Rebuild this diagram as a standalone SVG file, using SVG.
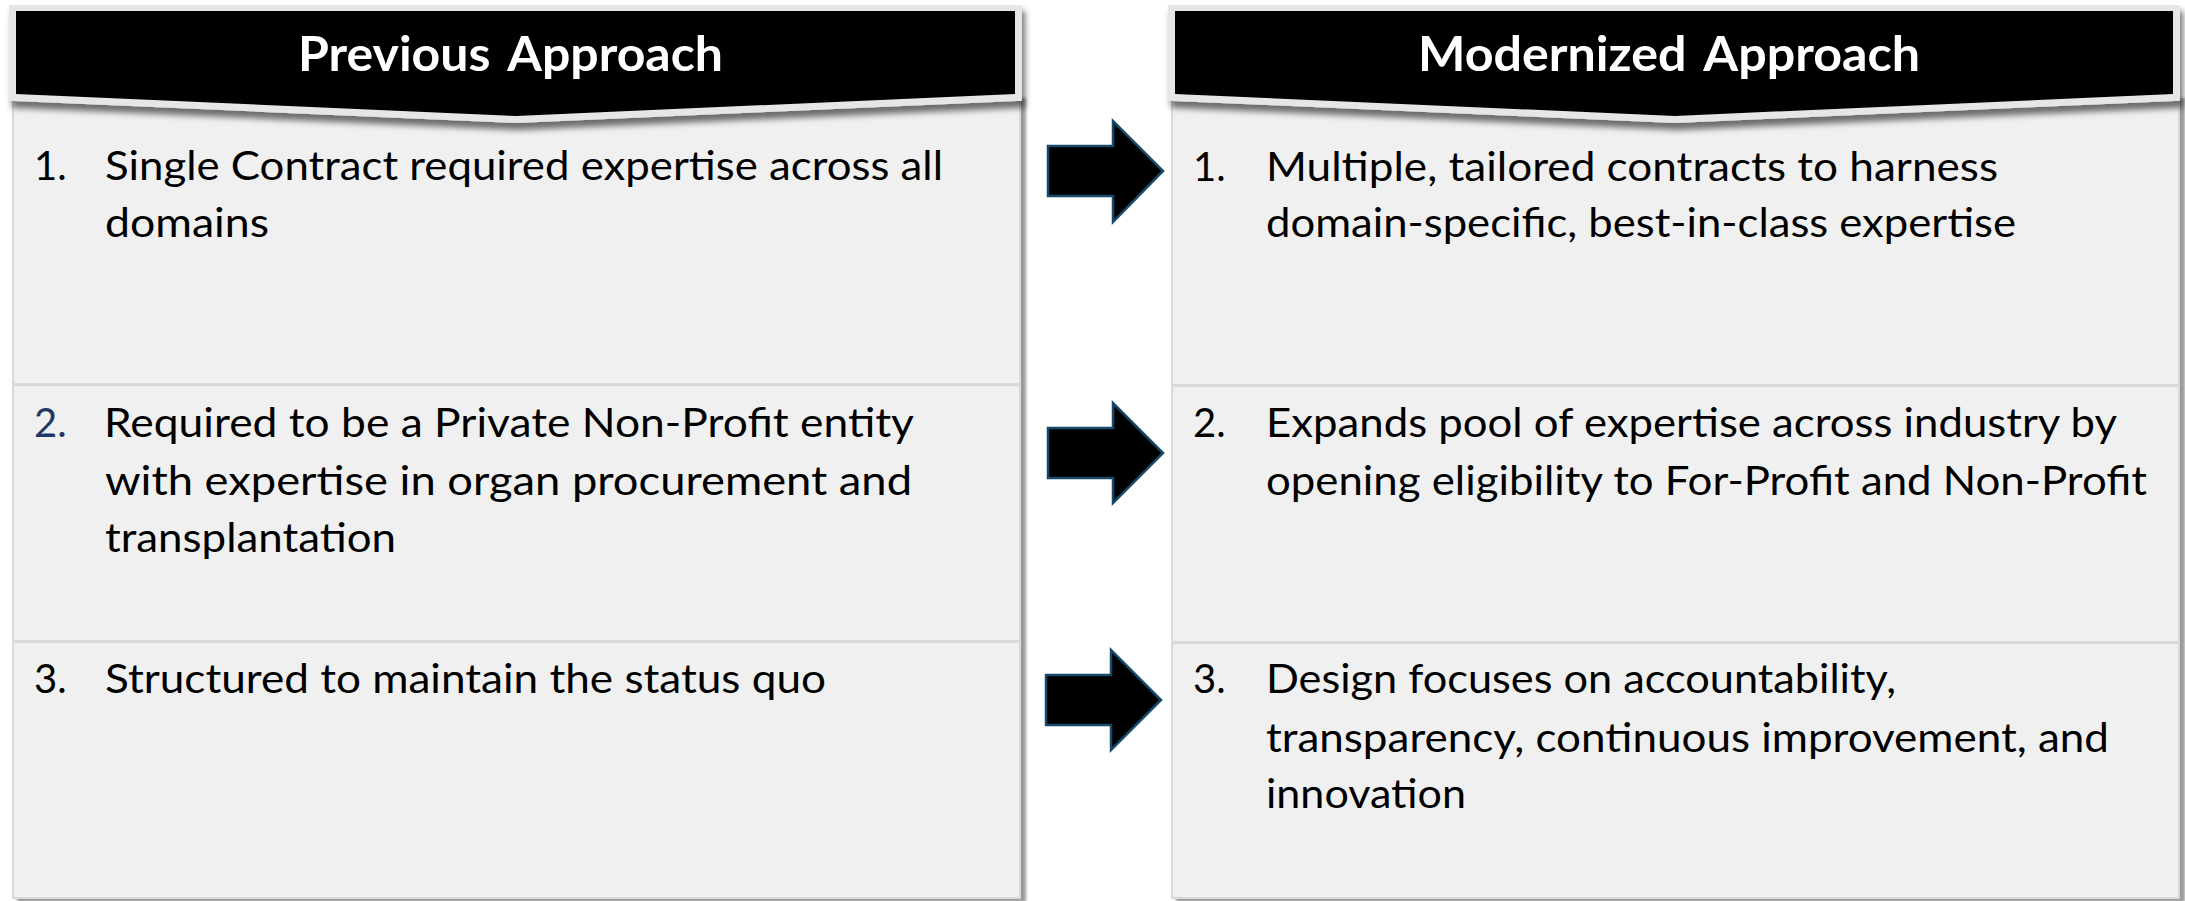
<svg xmlns="http://www.w3.org/2000/svg" width="2185" height="901" viewBox="0 0 2185 901">
<style>
.body{fill:#F0F0F0;stroke:#D9D9D9;stroke-width:2}
.div{fill:#D9D9D9}
.halo{fill:#E6E6E6;stroke:#E6E6E6;stroke-width:14;stroke-linejoin:miter}
.hdr{fill:#000}
.ht{font-family:Lato,"Liberation Sans",sans-serif;font-weight:bold;font-size:47px;fill:#FFF;word-spacing:6px}
.t{font-family:Lato,"Liberation Sans",sans-serif;font-size:40px;fill:#000}
.blue{fill:#1F3864}
.arrow{fill:#000;stroke:#17496B;stroke-width:2.5;stroke-linejoin:miter}
</style>
<defs>
<filter id="sh" x="-5%" y="-5%" width="110%" height="125%">
<feDropShadow dx="3" dy="7" stdDeviation="3" flood-color="#000" flood-opacity="0.55"/>
</filter>
<filter id="bsh" x="-2%" y="-2%" width="104%" height="104%">
<feDropShadow dx="5" dy="3" stdDeviation="1.5" flood-color="#000" flood-opacity="0.4"/>
</filter>
</defs>
<rect width="2185" height="901" fill="#FFFFFF"/>

<g id="previous">
<rect class="body" x="13" y="96" width="1007" height="802" filter="url(#bsh)"/>
<rect class="div" x="14" y="383" width="1005" height="3"/>
<rect class="div" x="14" y="640" width="1005" height="3"/>
<polygon class="halo" points="16,11 1015,11 1015,94 516,116 16,94" filter="url(#sh)"/>
<polygon class="hdr" points="16,11 1015,11 1015,94 516,116 16,94"/>
<text class="ht" x="298" y="71" textLength="425" lengthAdjust="spacingAndGlyphs">Previous Approach</text>
<text class="t" x="34" y="180">1.</text>
<text class="t" x="105" y="180" textLength="838" lengthAdjust="spacingAndGlyphs">Single Contract required expertise across all</text>
<text class="t" x="105" y="237" textLength="164" lengthAdjust="spacingAndGlyphs">domains</text>
<text class="t blue" x="34" y="437">2.</text>
<text class="t" x="104" y="437" textLength="810" lengthAdjust="spacingAndGlyphs">Required to be a Private Non-Profit entity</text>
<text class="t" x="105" y="495" textLength="807" lengthAdjust="spacingAndGlyphs">with expertise in organ procurement and</text>
<text class="t" x="105" y="552" textLength="291" lengthAdjust="spacingAndGlyphs">transplantation</text>
<text class="t" x="34" y="693">3.</text>
<text class="t" x="105" y="693" textLength="721" lengthAdjust="spacingAndGlyphs">Structured to maintain the status quo</text>
</g>

<g id="modernized">
<rect class="body" x="1172" y="96" width="1007" height="802" filter="url(#bsh)"/>
<rect class="div" x="1173" y="384" width="1005" height="3"/>
<rect class="div" x="1173" y="641" width="1005" height="3"/>
<polygon class="halo" points="1175,11 2173,11 2173,94 1675,116 1175,94" filter="url(#sh)"/>
<polygon class="hdr" points="1175,11 2173,11 2173,94 1675,116 1175,94"/>
<text class="ht" x="1418" y="71" textLength="502" lengthAdjust="spacingAndGlyphs">Modernized Approach</text>
<text class="t" x="1193" y="181">1.</text>
<text class="t" x="1266" y="181" textLength="732" lengthAdjust="spacingAndGlyphs">Multiple, tailored contracts to harness</text>
<text class="t" x="1266" y="237" textLength="750" lengthAdjust="spacingAndGlyphs">domain-specific, best-in-class expertise</text>
<text class="t" x="1193" y="437">2.</text>
<text class="t" x="1266" y="437" textLength="851" lengthAdjust="spacingAndGlyphs">Expands pool of expertise across industry by</text>
<text class="t" x="1266" y="495" textLength="881" lengthAdjust="spacingAndGlyphs">opening eligibility to For-Profit and Non-Profit</text>
<text class="t" x="1193" y="693">3.</text>
<text class="t" x="1266" y="693" textLength="630" lengthAdjust="spacingAndGlyphs">Design focuses on accountability,</text>
<text class="t" x="1266" y="752" textLength="843" lengthAdjust="spacingAndGlyphs">transparency, continuous improvement, and</text>
<text class="t" x="1266" y="808" textLength="200" lengthAdjust="spacingAndGlyphs">innovation</text>
</g>

<g id="connectors">
<polygon class="arrow" points="1048,146 1113,146 1113,121 1163,171 1113,222 1113,196 1048,196"/>
<polygon class="arrow" points="1048,428 1113,428 1113,403 1163,453 1113,503 1113,478 1048,478"/>
<polygon class="arrow" points="1046,675 1111,675 1111,650 1161,700 1111,750 1111,725 1046,725"/>
</g>
</svg>
